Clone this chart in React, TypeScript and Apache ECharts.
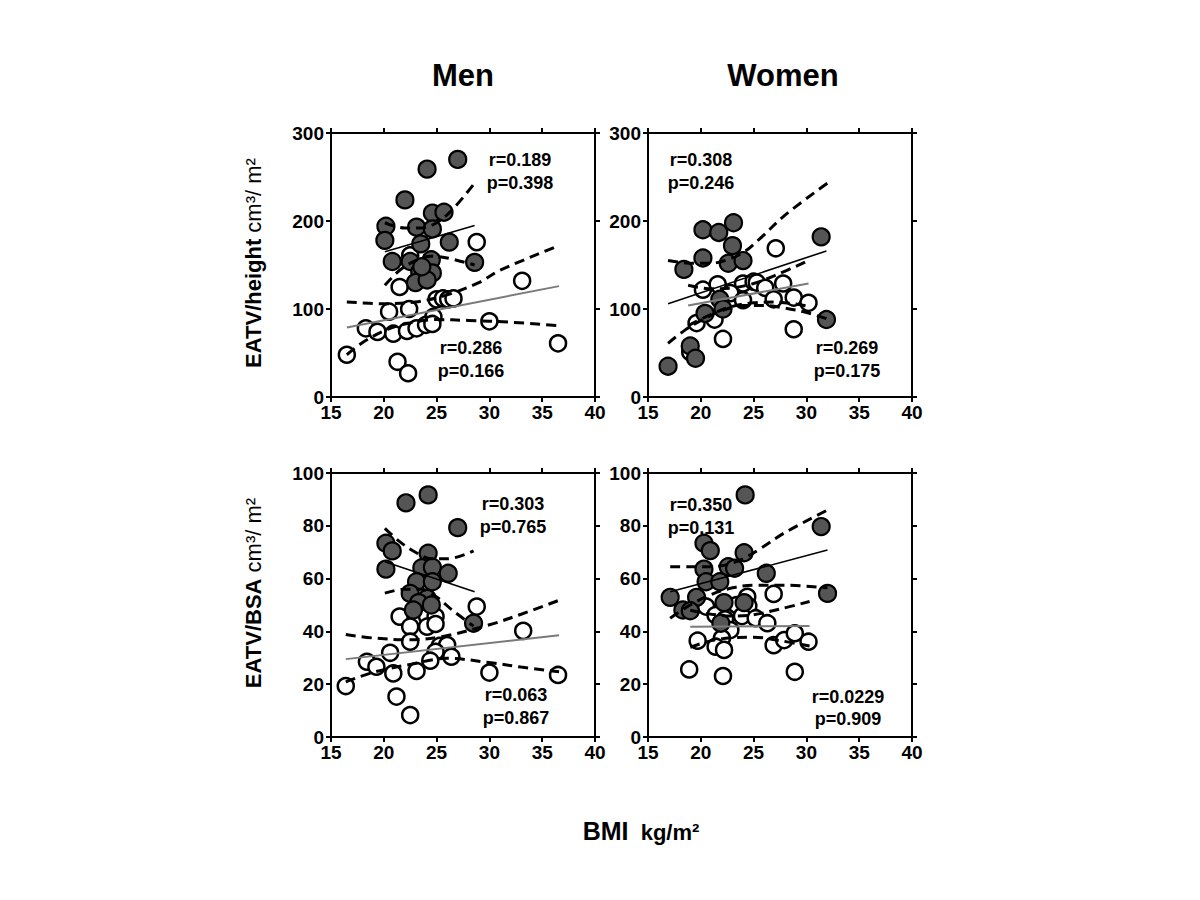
import React, { useEffect, useRef } from "react";
import * as echarts from "echarts";

// ---------- DATA ----------
const xTickLabels = ["15", "20", "25", "30", "35", "40"];
const yTopTicks = ["0", "100", "200", "300"];
const yBottomTicks = ["0", "20", "40", "60", "80", "100"];
const columnTitles = ["Men", "Women"];
const rowTitles = ["EATV/height", "EATV/BSA"];
const rowUnits = [" cm³/ m²", " cm³/ m²"];
const xTitle = "BMI";
const xUnit = "  kg/m²";

// Men, EATV/height
const menHeightFilled = [
  [24.1, 259], [27.0, 270], [22.0, 224], [24.6, 209], [25.7, 210], [20.2, 194], [23.1, 193],
  [24.6, 191], [20.1, 178], [26.2, 176], [23.5, 174], [20.8, 154], [22.5, 154], [24.5, 156],
  [28.6, 153], [23.4, 142], [24.6, 141], [23.0, 130], [24.1, 133], [23.6, 148],
];
const menHeightOpen = [
  [22.5, 161], [28.8, 176], [21.5, 125], [20.5, 97], [22.4, 100], [24.7, 91], [25.0, 111],
  [25.6, 112], [26.1, 111], [26.6, 112], [18.3, 78], [19.4, 74], [20.9, 72], [22.2, 75],
  [23.1, 78], [24.0, 82], [24.6, 83], [16.5, 48], [21.3, 40], [22.3, 27], [33.1, 132],
  [30.0, 86], [36.5, 61],
];
const menHeightFilledFit = [[20.1, 165], [28.6, 195]];
const menHeightFilledUpper = [[20.1, 198], [22, 192], [23.5, 192], [25, 198], [26.5, 213], [28.6, 243]];
const menHeightFilledLower = [[20.1, 127], [21.5, 144], [23, 155], [24.5, 160], [26, 158], [28.6, 150]];
const menHeightOpenFit = [[16.5, 79], [36.6, 126]];
const menHeightOpenUpper = [[16.5, 108], [20, 106], [23, 108], [26, 116], [29, 130], [31, 144], [36.6, 172]];
const menHeightOpenLower = [[16.5, 48], [18, 62], [20, 75], [22, 83], [25, 88], [28, 87], [32, 85], [36.6, 81]];

// Women, EATV/height
const womenHeightFilled = [
  [20.2, 190], [21.7, 187], [23.1, 198], [23.0, 172], [20.2, 158], [18.4, 145], [22.6, 152],
  [24.0, 155], [31.4, 182], [16.9, 35], [19.0, 58], [19.5, 44], [20.4, 95], [21.8, 111],
  [22.1, 100], [31.9, 88],
];
const womenHeightOpen = [
  [20.2, 122], [21.6, 128], [19.6, 84], [21.3, 88], [22.1, 66], [19.0, 51], [24.0, 129],
  [25.0, 131], [22.8, 118], [24.0, 110], [25.3, 130], [26.1, 124], [27.8, 129], [26.9, 111],
  [28.8, 113], [30.2, 107], [28.8, 77], [27.1, 169],
];
const womenHeightFilledFit = [[16.9, 106], [31.9, 166]];
const womenHeightFilledUpper = [[16.9, 155], [19.2, 152], [21, 152], [22.5, 156], [24, 164], [25.6, 180], [28, 207], [32, 243]];
const womenHeightFilledLower = [[16.9, 61], [18.5, 76], [20.2, 88], [22, 98], [24, 104], [26, 104], [28, 101], [30, 96], [31.9, 89]];
const womenHeightOpenFit = [[18.8, 104], [30.2, 129]];
const womenHeightOpenUpper = [[18.8, 127], [21, 123], [23, 124], [25, 129], [27, 138], [30.2, 155]];
const womenHeightOpenLower = [[18.8, 81], [21, 94], [23, 103], [25, 107], [27, 108], [30.2, 103]];

// Men, EATV/BSA
const menBsaFilled = [
  [22.1, 88.7], [24.2, 91.7], [27.0, 79.3], [20.2, 73.4], [20.8, 70.5], [24.2, 69.6], [20.2, 63.6],
  [23.6, 64.1], [24.6, 64.3], [26.1, 62.0], [23.1, 58.8], [24.6, 58.8], [22.5, 54.4], [24.1, 52.5],
  [23.3, 50.9], [24.5, 50.0], [22.8, 48.1], [28.5, 43.1],
];
const menBsaOpen = [
  [28.8, 49.4], [21.5, 45.6], [23.1, 45.6], [24.1, 45.6], [24.9, 45.6], [22.5, 41.8], [24.1, 41.8],
  [24.9, 42.8], [33.2, 40.2], [22.5, 36.1], [20.6, 31.9], [25.3, 34.5], [26.0, 34.8], [24.9, 32.3],
  [26.4, 30.4], [24.4, 28.9], [18.4, 28.5], [19.3, 26.6], [20.9, 24.1], [23.1, 25.0], [30.0, 24.4],
  [36.5, 23.5], [16.4, 19.3], [21.2, 15.3], [22.5, 8.3],
];
const menBsaFilledFit = [[20.1, 66.4], [28.6, 55.0]];
const menBsaFilledUpper = [[20.1, 79], [21.5, 74], [23, 70], [24.5, 67.5], [26, 67.5], [28.5, 70.5]];
const menBsaFilledLower = [[20.1, 54.5], [22, 56], [23.5, 56], [25, 53], [26.5, 48], [28.5, 42]];
const menBsaOpenFit = [[16.4, 29.5], [36.6, 38.5]];
const menBsaOpenUpper = [[16.4, 38.8], [19, 37.5], [22.5, 36.8], [25.5, 38], [30, 42.5], [33, 46.5], [36.6, 51.8]];
const menBsaOpenLower = [[16.4, 20.9], [19, 24.5], [22.5, 27.5], [26, 29.8], [30, 28.2], [33, 26.5], [36.6, 24.7]];

// Women, EATV/BSA
const womenBsaFilled = [
  [24.2, 91.7], [31.4, 79.7], [20.3, 73.4], [20.9, 70.6], [24.1, 69.8], [20.3, 63.6], [22.6, 64.5],
  [23.2, 63.9], [26.2, 62.0], [20.5, 58.8], [21.8, 58.8], [17.1, 52.9], [19.6, 52.9], [32.0, 54.4],
  [22.2, 50.9], [24.1, 50.9], [18.3, 48.1], [19.0, 47.8], [21.9, 43.1],
];
const womenBsaOpen = [
  [26.9, 54.2], [24.4, 53.1], [20.5, 49.4], [23.4, 50.0], [24.5, 49.6], [21.4, 46.2], [23.9, 45.8],
  [25.2, 45.0], [26.3, 43.1], [22.3, 44.6], [22.8, 40.5], [22.0, 37.4], [21.4, 34.2], [22.2, 33.0],
  [19.7, 36.5], [26.9, 34.8], [27.9, 36.7], [28.9, 39.3], [30.2, 36.1], [18.9, 25.6], [22.1, 23.1],
  [28.9, 24.7],
];
const womenBsaFilledFit = [[17.1, 55.0], [32.0, 70.8]];
const womenBsaFilledUpper = [[17.1, 64.5], [19, 64.5], [21, 64.5], [22.5, 65.3], [24, 67.5], [25.5, 71], [28, 77.5], [32, 86]];
const womenBsaFilledLower = [[17.1, 45], [19, 50], [21, 54], [23, 56.5], [25, 57.5], [28, 57.5], [32, 56.5]];
const womenBsaOpenFit = [[19.0, 41.8], [30.3, 42.0]];
const womenBsaOpenUpper = [[19, 48], [21, 46.5], [23, 45.8], [25, 46.3], [27.5, 48.5], [30.3, 51.3]];
const womenBsaOpenLower = [[19, 34], [21, 36.5], [23, 37.6], [25, 37.8], [27.5, 36.5], [30.3, 34.5]];

// correlation texts: [upper r, upper p, lower r, lower p] per panel
const menHeightStats = ["r=0.189", "p=0.398", "r=0.286", "p=0.166"];
const womenHeightStats = ["r=0.308", "p=0.246", "r=0.269", "p=0.175"];
const menBsaStats = ["r=0.303", "p=0.765", "r=0.063", "p=0.867"];
const womenBsaStats = ["r=0.350", "p=0.131", "r=0.0229", "p=0.909"];

// ---------- LAYOUT ----------
const FONT = "Arial, 'Liberation Sans', Helvetica, sans-serif";
const PW = 264;
const PH = 264;

type Panel = {
  left: number; top: number; yMax: number; yInterval: number;
  filled: number[][]; open: number[][];
  fFit: number[][]; fUp: number[][]; fLo: number[][];
  oFit: number[][]; oUp: number[][]; oLo: number[][];
  stats: string[]; statPos: number[][];
};

const panels: Panel[] = [
  {
    left: 331, top: 133, yMax: Number(yTopTicks[yTopTicks.length - 1]), yInterval: 100,
    filled: menHeightFilled, open: menHeightOpen,
    fFit: menHeightFilledFit, fUp: menHeightFilledUpper, fLo: menHeightFilledLower,
    oFit: menHeightOpenFit, oUp: menHeightOpenUpper, oLo: menHeightOpenLower,
    stats: menHeightStats, statPos: [[520, 160], [520, 183], [471, 348], [471, 371]],
  },
  {
    left: 648, top: 133, yMax: Number(yTopTicks[yTopTicks.length - 1]), yInterval: 100,
    filled: womenHeightFilled, open: womenHeightOpen,
    fFit: womenHeightFilledFit, fUp: womenHeightFilledUpper, fLo: womenHeightFilledLower,
    oFit: womenHeightOpenFit, oUp: womenHeightOpenUpper, oLo: womenHeightOpenLower,
    stats: womenHeightStats, statPos: [[701, 160], [701, 183], [847, 348], [847, 371]],
  },
  {
    left: 331, top: 473, yMax: Number(yBottomTicks[yBottomTicks.length - 1]), yInterval: 20,
    filled: menBsaFilled, open: menBsaOpen,
    fFit: menBsaFilledFit, fUp: menBsaFilledUpper, fLo: menBsaFilledLower,
    oFit: menBsaOpenFit, oUp: menBsaOpenUpper, oLo: menBsaOpenLower,
    stats: menBsaStats, statPos: [[513, 504], [513, 527], [516, 695], [516, 718]],
  },
  {
    left: 648, top: 473, yMax: Number(yBottomTicks[yBottomTicks.length - 1]), yInterval: 20,
    filled: womenBsaFilled, open: womenBsaOpen,
    fFit: womenBsaFilledFit, fUp: womenBsaFilledUpper, fLo: womenBsaFilledLower,
    oFit: womenBsaOpenFit, oUp: womenBsaOpenUpper, oLo: womenBsaOpenLower,
    stats: womenBsaStats, statPos: [[701, 505], [701, 528], [848, 697], [848, 719]],
  },
];

const xMin = Number(xTickLabels[0]);
const xMax = Number(xTickLabels[xTickLabels.length - 1]);

function buildOption() {
  const grid: any[] = [];
  const xAxis: any[] = [];
  const yAxis: any[] = [];
  const series: any[] = [];
  const graphic: any[] = [];

  const axisLine = { show: true, onZero: false, lineStyle: { color: "#000", width: 2 } };
  const axisTick = { show: true, inside: false, length: 5, lineStyle: { color: "#000", width: 2 } };
  const label = { color: "#000", fontWeight: "bold", fontSize: 19, fontFamily: FONT };

  panels.forEach((p, i) => {
    grid.push({ left: p.left, top: p.top, width: PW, height: PH, containLabel: false });
    xAxis.push({
      type: "value", gridIndex: i, position: "bottom", min: xMin, max: xMax, interval: 5,
      axisLine, axisTick, splitLine: { show: false },
      axisLabel: { ...label, margin: 6 },
    });
    xAxis.push({
      type: "value", gridIndex: i, position: "top", min: xMin, max: xMax, interval: 5,
      axisLine, axisTick, splitLine: { show: false }, axisLabel: { show: false },
    });
    yAxis.push({
      type: "value", gridIndex: i, position: "left", min: 0, max: p.yMax, interval: p.yInterval,
      axisLine, axisTick, splitLine: { show: false },
      axisLabel: { ...label, margin: 7 },
    });
    yAxis.push({
      type: "value", gridIndex: i, position: "right", min: 0, max: p.yMax, interval: p.yInterval,
      axisLine, axisTick, splitLine: { show: false }, axisLabel: { show: false },
    });
    const ax = { xAxisIndex: 2 * i, yAxisIndex: 2 * i };
    series.push({
      type: "scatter", ...ax, data: p.open, symbol: "circle", symbolSize: 16, z: 2,
      itemStyle: { color: "#fff", borderColor: "#000", borderWidth: 2.5, opacity: 1 },
    });
    series.push({
      type: "scatter", ...ax, data: p.filled, symbol: "circle", symbolSize: 17, z: 3,
      itemStyle: { color: "#555555", borderColor: "#000", borderWidth: 2.2, opacity: 1 },
    });
    const dashed = { color: "#000", width: 3, type: [10, 6] };
    const lineBase = { type: "line", ...ax, showSymbol: false, symbol: "none", z: 5, silent: true };
    series.push({ ...lineBase, data: p.fUp, smooth: 0.35, lineStyle: dashed });
    series.push({ ...lineBase, data: p.fLo, smooth: 0.35, lineStyle: dashed });
    series.push({ ...lineBase, data: p.oUp, smooth: 0.35, lineStyle: dashed });
    series.push({ ...lineBase, data: p.oLo, smooth: 0.35, lineStyle: dashed });
    series.push({ ...lineBase, data: p.fFit, lineStyle: { color: "#000", width: 1.6 } });
    series.push({ ...lineBase, data: p.oFit, lineStyle: { color: "#7a7a7a", width: 2 } });

    p.stats.forEach((s, k) => {
      graphic.push({
        type: "text", x: p.statPos[k][0], y: p.statPos[k][1], z: 10,
        style: {
          text: s, fill: "#000", fontSize: 18, fontWeight: "bold", fontFamily: FONT,
          textAlign: "center", textVerticalAlign: "middle",
        },
      });
    });
  });

  // column titles
  graphic.push({
    type: "text", x: 463, y: 75,
    style: { text: columnTitles[0], fill: "#000", fontSize: 31, fontWeight: "bold", fontFamily: FONT, textAlign: "center", textVerticalAlign: "middle" },
  });
  graphic.push({
    type: "text", x: 783, y: 75,
    style: { text: columnTitles[1], fill: "#000", fontSize: 31, fontWeight: "bold", fontFamily: FONT, textAlign: "center", textVerticalAlign: "middle" },
  });

  const rich = {
    b: { fontSize: 22, fontWeight: "bold", fontFamily: FONT, fill: "#000", lineHeight: 28 },
    n: { fontSize: 22, fontFamily: FONT, fill: "#000", lineHeight: 28, fontWeight: "normal" },
  };
  graphic.push({
    type: "text", x: 253, y: 263, rotation: Math.PI / 2,
    style: {
      text: `{b|${rowTitles[0]}}{n|${rowUnits[0]}}`,
      rich, textAlign: "center", textVerticalAlign: "middle",
    },
  });
  graphic.push({
    type: "text", x: 253, y: 593, rotation: Math.PI / 2,
    style: {
      text: `{b|${rowTitles[1]}}{n|${rowUnits[1]}}`,
      rich, textAlign: "center", textVerticalAlign: "middle",
    },
  });
  const richB = {
    big: { fontSize: 25, fontWeight: "bold", fontFamily: FONT, fill: "#000", lineHeight: 30, verticalAlign: "bottom" },
    u: { fontSize: 22, fontWeight: "bold", fontFamily: FONT, fill: "#000", lineHeight: 30, verticalAlign: "bottom" },
  };
  graphic.push({
    type: "text", x: 641, y: 828,
    style: { text: `{big|${xTitle}}{u|${xUnit}}`, rich: richB, textAlign: "center", textVerticalAlign: "middle" },
  });

  return {
    animation: false,
    backgroundColor: "#fff",
    grid, xAxis, yAxis, series, graphic,
  };
}

export default function App() {
  const ref = useRef<HTMLDivElement>(null);
  useEffect(() => {
    if (!ref.current) return;
    const chart = echarts.init(ref.current, undefined, { renderer: "svg" });
    chart.setOption(buildOption() as any);
    return () => chart.dispose();
  }, []);
  return (
    <div
      ref={ref}
      style={{ position: "fixed", left: 0, top: 0, width: 1200, height: 900, background: "#fff" }}
    />
  );
}
